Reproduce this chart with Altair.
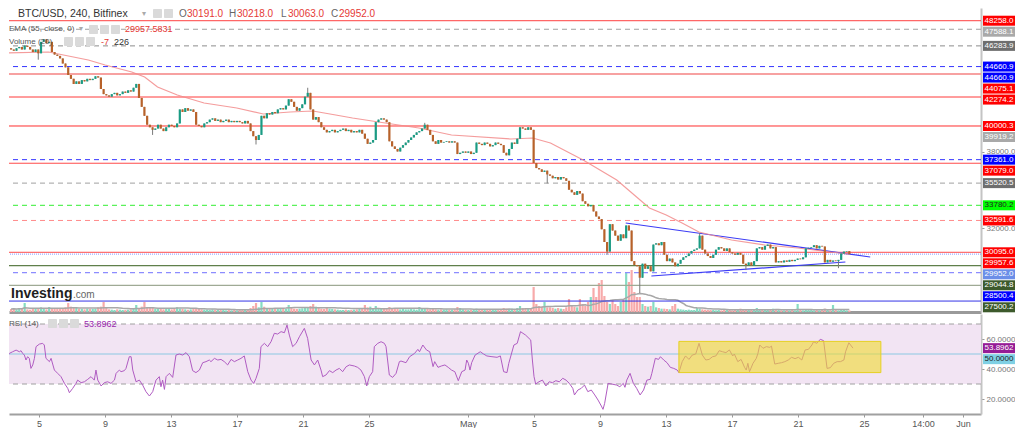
import altair as alt
import pandas as pd

FONT = "Liberation Sans"

# ---------------------------------------------------------------- data
# time axis = days since 2022-04-01 00:00, one candle every 4 hours
START_DAY = 2.0
PER_DAY = 6
FIRST_OPEN = 46100

closes_by_day = [
    [46000, 45900, 46100, 46200, 46000, 46300],  # Apr 3
    [46200, 46000, 45800, 46000, 45700, 46600],  # Apr 4
    [46800, 46500, 46600, 45800, 45600, 45500],  # Apr 5
    [45300, 44900, 44600, 44000, 43700, 43300],  # Apr 6
    [43500, 43300, 43600, 43500, 43700, 43600],  # Apr 7
    [43700, 43900, 43800, 42900, 42500, 42400],  # Apr 8
    [42300, 42500, 42600, 42400, 42500, 42700],  # Apr 9
    [42600, 42800, 42700, 43000, 43300, 42200],  # Apr 10
    [41500, 40800, 40100, 39900, 39700, 39800],  # Apr 11
    [40100, 39800, 39600, 39900, 40100, 40000],  # Apr 12
    [39900, 40200, 41300, 41100, 41400, 41200],  # Apr 13
    [41300, 41100, 40100, 40000, 39900, 40200],  # Apr 14
    [40300, 40500, 40600, 40400, 40500, 40300],  # Apr 15
    [40400, 40500, 40300, 40400, 40300, 40400],  # Apr 16
    [40300, 40200, 40400, 40200, 39600, 39200],  # Apr 17
    [38900, 39300, 40800, 40600, 41000, 40900],  # Apr 18
    [41100, 41000, 41300, 41400, 41300, 41600],  # Apr 19
    [42100, 41900, 41500, 41200, 41400, 41700],  # Apr 20
    [42300, 42600, 41300, 40500, 40700, 40300],  # Apr 21
    [39900, 39700, 39500, 39600, 39700, 39500],  # Apr 22
    [39600, 39700, 39800, 39600, 39700, 39500],  # Apr 23
    [39600, 39500, 39700, 39400, 39000, 38600],  # Apr 24
    [38700, 38900, 40300, 40500, 40600, 40500],  # Apr 25
    [40300, 38800, 38400, 38200, 38000, 38300],  # Apr 26
    [38500, 38700, 38900, 39100, 39300, 39500],  # Apr 27
    [39600, 39800, 40100, 39700, 39300, 38800],  # Apr 28
    [38600, 38900, 38700, 38750, 38800, 38700],  # Apr 29
    [38800, 38700, 37800, 37900, 38000, 37900],  # Apr 30
    [38000, 37800, 37900, 38700, 38600, 38500],  # May 1
    [38700, 38600, 38400, 38500, 38700, 38600],  # May 2
    [38500, 37900, 37700, 38200, 38700, 38600],  # May 3
    [39000, 39900, 39800, 39700, 39900, 39700],  # May 4
    [37100, 36700, 36600, 36400, 36500, 36200],  # May 5
    [36100, 35900, 36000, 35800, 36000, 35900],  # May 6
    [35700, 35000, 34800, 34600, 34900, 34700],  # May 7
    [34100, 33900, 33700, 33800, 33300, 32900],  # May 8
    [32700, 31900, 30900, 30150, 32300, 31800],  # May 9
    [31400, 31000, 31500, 31200, 32200, 31800],  # May 10
    [29400, 29100, 29000, 28100, 29200, 28800],  # May 11
    [29000, 28600, 30700, 30800, 30650, 30900],  # May 12
    [29900, 29400, 29600, 29300, 29000, 29200],  # May 13
    [29500, 29700, 29800, 30000, 30200, 30300],  # May 14
    [30400, 31400, 30300, 30000, 29800, 29650],  # May 15
    [29900, 30300, 30500, 30400, 30200, 30400],  # May 16
    [30100, 30000, 29900, 30050, 29900, 29200],  # May 17
    [29100, 29300, 29050, 29400, 30400, 30500],  # May 18
    [30300, 30600, 30700, 30400, 30500, 29300],  # May 19
    [29400, 29300, 29450, 29350, 29500, 29400],  # May 20
    [29500, 29600, 29550, 29700, 30400, 30450],  # May 21
    [30500, 30650, 30400, 30600, 30550, 29300],  # May 22
    [29500, 29350, 29450, 29400, 29500, 30000],  # May 23
    [30150, 30191, 29952],                        # May 24
]

volumes_by_day = [
    [450, 500, 400, 600, 500, 1350], [400, 350, 600, 500, 450, 700],
    [500, 400, 750, 600, 450, 500], [550, 600, 700, 1350, 800, 700],
    [600, 500, 450, 400, 500, 450], [450, 500, 700, 800, 1500, 600],
    [400, 350, 300, 400, 350, 300], [300, 350, 400, 600, 1050, 500],
    [800, 1500, 700, 600, 750, 500], [500, 450, 400, 500, 450, 400],
    [450, 700, 500, 450, 400, 350], [400, 500, 600, 450, 400, 350],
    [350, 300, 400, 350, 300, 300], [300, 250, 300, 250, 300, 250],
    [300, 350, 300, 400, 600, 900], [1350, 700, 1500, 800, 600, 500],
    [500, 450, 600, 500, 450, 500], [1050, 600, 500, 450, 500, 550],
    [600, 700, 900, 1200, 800, 600], [500, 450, 750, 500, 450, 400],
    [350, 300, 300, 350, 300, 300], [350, 400, 450, 500, 1050, 700],
    [800, 600, 900, 600, 500, 450], [500, 750, 600, 500, 450, 400],
    [450, 400, 400, 450, 400, 350], [750, 500, 600, 450, 400, 500],
    [400, 350, 400, 350, 400, 350], [350, 400, 750, 600, 400, 350],
    [300, 350, 300, 500, 450, 350], [400, 350, 450, 400, 350, 400],
    [400, 600, 500, 450, 500, 450], [600, 900, 600, 500, 550, 600],
    [3750, 1200, 900, 800, 1500, 700], [700, 600, 500, 600, 500, 450],
    [700, 1950, 1050, 800, 700, 1950], [1200, 900, 1500, 2250, 3600, 2250],
    [4350, 4800, 2400, 1500, 1200, 1800], [1200, 900, 1500, 1800, 5850, 4500],
    [6300, 3000, 2250, 2250, 1200, 900], [800, 900, 1500, 700, 600, 500],
    [500, 450, 400, 900, 1200, 500], [400, 350, 300, 350, 300, 300],
    [600, 500, 400, 350, 300, 300], [300, 250, 300, 250, 300, 300],
    [300, 250, 300, 350, 500, 400], [350, 300, 300, 350, 600, 400],
    [350, 300, 350, 300, 500, 350], [300, 250, 250, 300, 250, 300],
    [250, 1200, 300, 250, 400, 350], [300, 250, 300, 250, 300, 500],
    [300, 250, 1050, 300, 250, 400], [300, 250, 226],
]

# visible wick extremes (candle index -> price)
upper_wicks = {109: 43000, 152: 40250, 253: 31600}
lower_wicks = {10: 45200, 52: 39300, 90: 38550, 197: 35500, 219: 29900,
               231: 26900, 270: 28700, 304: 28850}

# EMA(55)
ema_day = [1.70, 4.30, 6.73, 7.76, 9.39, 10.18, 10.97, 12.18, 13.82, 15.82, 17.45,
           19.09, 20.48, 21.88, 22.91, 24.91, 26.97, 28.97, 32.61, 33.94, 35.03,
           37.03, 39.09, 41.09, 42.12, 43.09, 44.12, 46.12, 48.18, 50.18, 52.18, 53.33]
ema_val = [45725, 45804, 45176, 44784, 44235, 43843, 43059, 42431, 41804, 41412, 40941,
           41098, 41176, 40863, 40627, 40235, 39843, 39294, 38980, 39059, 38667,
           37333, 35765, 33569, 33020, 32392, 31686, 31059, 30667, 30431, 30118, 29958]

# triangle trend lines
tri_day = [39.64, 54.61, 41.21, 53.09]
tri_price = [32392, 29725, 28235, 29333]
tri_id = ["upper", "upper", "lower", "lower"]

# horizontal levels
level_price = [48258.0, 47588.1, 46283.9, 44660.9, 44075.1, 42274.2, 40000.3, 37361.0,
               37079.0, 35520.5, 33780.2, 32591.6, 30095.0, 29952.0, 29044.8, 28500.4,
               27500.2, 26270.0]
level_color = ["#ff4040", "#a0a0a0", "#8c8c8c", "#3535ff", "#f7a1a1", "#ff3b3b", "#ff2f2f",
               "#3535ff", "#ff4a4a", "#a0a0a0", "#33ee33", "#ff8a8a", "#ff4a4a", "#8899ff",
               "#5f7f4a", "#8c8cff", "#9faa95", "#3434e6"]
level_style = ["solid", "dashed", "dashed", "dashed", "solid", "solid", "solid", "dashed",
               "solid", "dashed", "dashed", "dashed", "solid", "dotted", "solid", "dashed",
               "solid", "solid"]
level_width = [1, 1, 1, 1, 2, 1, 1, 1, 1, 1, 1, 1, 1, 1, 1.2, 1.2, 1.2, 1]

# price tags on the right scale
tag_price = [48258.0, 47588.1, 46283.9, 44660.9, 44660.9, 44075.1, 42274.2, 40000.3,
             39919.2, 37361.0, 37079.0, 35520.5, 33780.2, 32591.6, 30095.0, 29957.6,
             29952.0, 29044.8, 28500.4, 27500.2]
tag_bg = ["#ff0000", "#a9a9a9", "#6e6e6e", "#0000ff", "#0000ff", "#ff0000", "#ff0000",
          "#ff0000", "#a9a9a9", "#0000ff", "#ff0000", "#6e6e6e", "#00ff00", "#ff0000",
          "#ff0000", "#ff0000", "#6b8ee8", "#3d5a2c", "#0000ff", "#3d5a2c"]
tag_fg = ["white"] * 12 + ["#222222"] + ["white"] * 7
price_ticks = [38000, 32000]

# RSI(14): (day, value)
rsi_points = [
    (1.70, 47.1), (1.86, 44.9), (2.00, 47.1), (2.20, 50.4), (2.40, 51.5), (2.61, 52.6),
    (2.81, 51.5), (2.91, 52.2), (3.01, 50.4), (3.11, 49.3), (3.21, 46.0), (3.31, 48.2),
    (3.41, 47.1), (3.51, 40.4), (3.62, 42.7), (3.72, 47.1), (3.82, 54.9), (4.02, 56.6),
    (4.22, 57.1), (4.32, 56.0), (4.42, 47.1), (4.63, 44.9), (4.73, 47.1), (4.93, 39.3),
    (5.13, 37.1), (5.33, 34.9), (5.54, 30.4), (5.74, 27.1), (5.84, 24.2), (6.04, 27.1),
    (6.24, 30.4), (6.34, 32.6), (6.55, 30.9), (6.75, 31.5), (6.95, 33.1), (7.15, 34.9),
    (7.35, 32.6), (7.45, 39.3), (7.56, 32.6), (7.76, 28.7), (7.96, 30.9), (8.16, 31.5),
    (8.36, 30.4), (8.57, 32.6), (8.67, 37.1), (8.87, 39.3), (8.97, 38.2), (9.17, 38.9),
    (9.27, 40.4), (9.47, 48.2), (9.58, 48.2), (9.68, 39.3), (9.88, 31.5), (10.08, 32.6),
    (10.28, 29.3), (10.48, 24.9), (10.69, 22.0), (10.89, 24.9), (11.09, 32.6), (11.29, 34.9),
    (11.39, 28.2), (11.49, 32.6), (11.60, 26.4), (11.70, 34.9), (11.90, 37.1), (12.10, 34.4),
    (12.30, 49.3), (12.50, 50.0), (12.71, 49.3), (12.91, 50.9), (13.11, 48.2), (13.31, 38.9),
    (13.51, 37.6), (13.72, 39.3), (13.92, 44.2), (14.12, 44.9), (14.32, 46.0), (14.42, 44.9),
    (14.63, 47.1), (14.83, 46.0), (15.03, 46.4), (15.23, 44.9), (15.43, 42.7), (15.64, 46.4),
    (15.84, 44.9), (16.04, 46.0), (16.24, 47.1), (16.44, 48.7), (16.65, 38.2), (16.85, 32.6),
    (17.01, 30.4), (17.15, 33.8), (17.35, 40.4), (17.45, 54.9), (17.66, 57.1), (17.86, 54.9),
    (18.06, 58.2), (18.26, 63.8), (18.46, 63.3), (18.67, 64.9), (18.87, 64.2), (19.03, 69.3),
    (19.17, 62.6), (19.37, 54.9), (19.58, 57.1), (19.78, 61.5), (20.08, 67.1), (20.28, 60.4),
    (20.49, 46.0), (20.69, 42.7), (20.89, 46.0), (21.09, 39.3), (21.19, 34.9), (21.39, 36.0),
    (21.60, 38.9), (21.80, 37.6), (22.00, 39.3), (22.20, 40.4), (22.40, 38.2), (22.61, 41.5),
    (22.81, 42.7), (23.11, 42.0), (23.31, 41.1), (23.51, 39.3), (23.72, 34.9), (23.86, 28.7),
    (24.02, 34.9), (24.22, 38.2), (24.32, 54.9), (24.53, 57.1), (24.73, 58.2), (24.93, 57.1),
    (25.03, 54.9), (25.23, 36.0), (25.43, 34.4), (25.64, 37.1), (25.84, 44.9), (25.94, 45.3),
    (26.24, 44.2), (26.46, 48.2), (26.76, 50.4), (26.96, 53.1), (27.06, 51.5), (27.26, 56.0),
    (27.48, 52.7), (27.68, 51.5), (27.88, 41.6), (27.98, 44.9), (28.18, 41.1), (28.38, 42.0),
    (28.60, 42.7), (28.80, 41.1), (29.00, 39.3), (29.20, 38.2), (29.41, 32.2), (29.62, 38.2),
    (29.82, 39.3), (29.92, 46.0), (30.02, 43.8), (30.12, 39.3), (30.22, 44.2), (30.43, 49.3),
    (30.74, 51.5), (30.94, 50.0), (31.14, 48.7), (31.45, 48.2), (31.76, 47.8), (31.96, 48.7),
    (32.16, 38.2), (32.36, 37.6), (32.47, 43.8), (32.78, 56.0), (32.98, 57.1), (33.18, 64.9),
    (33.49, 62.6), (33.80, 59.3), (33.90, 46.0), (34.00, 34.9), (34.10, 30.0), (34.30, 31.5),
    (34.51, 32.6), (34.72, 28.7), (34.92, 31.5), (35.12, 30.9), (35.32, 32.2), (35.53, 31.5),
    (35.74, 33.8), (35.94, 32.6), (36.14, 30.4), (36.35, 27.1), (36.45, 22.7), (36.66, 26.0),
    (36.86, 27.1), (37.06, 29.3), (37.26, 24.9), (37.47, 26.0), (37.68, 22.7), (37.88, 19.3),
    (38.08, 15.3), (38.18, 13.1), (38.28, 17.1), (38.49, 30.4), (38.70, 30.0), (39.00, 29.3),
    (39.20, 28.2), (39.41, 30.4), (39.51, 27.8), (39.62, 32.6), (39.82, 37.1), (40.02, 30.4),
    (40.22, 27.1), (40.43, 22.7), (40.64, 26.0), (40.84, 32.6), (41.04, 33.1), (41.14, 37.1),
    (41.35, 47.1), (41.55, 46.4), (41.66, 48.2), (41.86, 46.0), (42.06, 44.2), (42.26, 41.1),
    (42.47, 40.4), (42.68, 39.3), (42.78, 37.6), (42.98, 44.9), (43.18, 48.7), (43.39, 46.4),
    (43.59, 49.3), (43.80, 50.0), (44.00, 57.1), (44.20, 49.3), (44.41, 46.0), (44.61, 46.4),
    (44.82, 48.2), (45.02, 48.7), (45.22, 52.2), (45.43, 51.5), (45.63, 50.9), (45.84, 52.7),
    (46.04, 48.7), (46.14, 50.0), (46.35, 44.9), (46.55, 46.4), (46.76, 41.1), (46.86, 39.3),
    (46.96, 43.8), (47.06, 38.2), (47.27, 43.8), (47.47, 47.1), (47.57, 50.4), (47.68, 56.0),
    (47.88, 53.8), (48.08, 54.9), (48.29, 54.4), (48.39, 55.3), (48.59, 43.3), (48.80, 43.8),
    (49.00, 44.2), (49.20, 44.9), (49.41, 46.0), (49.61, 47.8), (49.82, 46.9), (50.02, 47.8),
    (50.23, 46.0), (50.43, 52.7), (50.63, 53.1), (50.84, 56.0), (50.94, 58.2), (51.14, 57.1),
    (51.35, 59.8), (51.55, 58.9), (51.76, 40.4), (51.96, 40.9), (52.16, 43.8), (52.37, 44.9),
    (52.57, 44.9), (52.78, 46.0), (52.88, 51.5), (53.08, 57.5), (53.33, 53.9),
]
rsi_ticks = [60, 40, 20]
rsi_tag_val = [53.8962, 50.0]
rsi_tag_bg = ["#951b95", "#7fd0e4"]
rsi_tag_fg = ["white", "#222222"]
box_day = [42.78, 55.02]
box_rsi = [37.6, 58.4]

x_tick_day = [4, 8, 12, 16, 20, 24, 30, 34, 38, 42, 46, 50, 54, 57.58, 60]
x_tick_text = ["5", "9", "13", "17", "21", "25", "May", "5", "9", "13", "17", "21", "25",
               "14:00", "Jun"]

# ---------------------------------------------------------------- frames
closes = [c for d in closes_by_day for c in d]
vols = [v for d in volumes_by_day for v in d]
n = len(closes)
opens = [FIRST_OPEN] + closes[:-1]
days = [START_DAY + i / PER_DAY for i in range(n)]
highs = [max(o, c) for o, c in zip(opens, closes)]
lows = [min(o, c) for o, c in zip(opens, closes)]
for i, h in upper_wicks.items():
    highs[i] = max(highs[i], h)
for i, l in lower_wicks.items():
    lows[i] = min(lows[i], l)
cdf = pd.DataFrame(dict(day=days, open=opens, close=closes, high=highs, low=lows,
                        volume=vols))

# ---------------------------------------------------------------- layout
W = 972
H_P = 304
H_R = 100
XD = [2.18, 2.18 + W / 16.5]
PY = [25412, 49255]
RY = [10, 76.67]
VOL_MAX = 45600
BULL, BEAR = "#1a9c84", "#b8622a"


def stack(values, gap):
    order = sorted(range(len(values)), key=lambda i: -values[i])
    pos = [0.0] * len(values)
    prev = None
    for i in order:
        y = values[i]
        if prev is not None and prev - y < gap:
            y = prev - gap
        pos[i] = y
        prev = y
    return pos


ppp = (PY[1] - PY[0]) / H_P
tpos = stack(tag_price, 11 * ppp)
tags = pd.DataFrame(dict(yc=tpos, top=[p + 5.0 * ppp for p in tpos],
                         bot=[p - 5.0 * ppp for p in tpos],
                         txt=[f"{p:.1f}" for p in tag_price], bg=tag_bg, fg=tag_fg))
rpp = (RY[1] - RY[0]) / H_R
rpos = stack(rsi_tag_val, 11 * rpp)
rtags = pd.DataFrame(dict(yc=rpos, top=[p + 5.0 * rpp for p in rpos],
                          bot=[p - 5.0 * rpp for p in rpos],
                          txt=[f"{p:.4f}" for p in rsi_tag_val], bg=rsi_tag_bg,
                          fg=rsi_tag_fg))

xs = alt.Scale(domain=XD, nice=False, zero=False)
ys = alt.Scale(domain=PY, nice=False, zero=False)
vs = alt.Scale(domain=[0, VOL_MAX], nice=False)
rs = alt.Scale(domain=RY, nice=False, zero=False)

px_axis = alt.Axis(title=None, labels=False, ticks=False, grid=False,
                   domainColor="#9a9a9a", domainWidth=3, orient="bottom")
py_axis = alt.Axis(title=None, orient="right", values=price_ticks, format=".1f",
                   grid=False, domainColor="#c4c4c4", domainWidth=2, tickColor="#999",
                   tickSize=3, labelColor="#777", labelFontSize=8, labelFont=FONT,
                   labelPadding=2)
lab_expr = ("[" + ",".join(f"'{t}'" for t in x_tick_text) + "][indexof(["
            + ",".join(str(v) for v in x_tick_day) + "], datum.value)]")
rx_axis = alt.Axis(title=None, orient="bottom", values=x_tick_day, labelExpr=lab_expr,
                   grid=False, domainColor="#a0a0a0", domainWidth=2, tickColor="#999",
                   tickSize=3, labelColor="#555", labelFontSize=9, labelFont=FONT,
                   labelPadding=2, labelOverlap=False, labelFlush=False)
ry_axis = alt.Axis(title=None, orient="right", values=rsi_ticks, format=".4f",
                   grid=False, domainColor="#c4c4c4", domainWidth=2, tickColor="#999",
                   tickSize=3, labelColor="#777", labelFontSize=8, labelFont=FONT,
                   labelPadding=2)


def PX(f="day"):
    return alt.X(f"{f}:Q", scale=xs, axis=px_axis)


def PYc(f):
    return alt.Y(f"{f}:Q", scale=ys, axis=py_axis)


ONE = pd.DataFrame({"a": [0]})


def txt(text, x, y, color, size, weight="normal", baseline="middle"):
    return alt.Chart(ONE).mark_text(
        text=text, color=color, fontSize=size, fontWeight=weight, font=FONT,
        align="left", baseline=baseline).encode(x=alt.value(x), y=alt.value(y))


def icon(x, y, s=9):
    return alt.Chart(ONE).mark_rect(color="#dadada", cornerRadius=1).encode(
        x=alt.value(x), x2=alt.value(x + s), y=alt.value(y), y2=alt.value(y + s))


# ---------------------------------------------------------------- price panel
lv = pd.DataFrame(dict(price=level_price, color=level_color, style=level_style,
                       w=level_width))
dash_of = {"solid": [1, 0], "dashed": [5, 4], "dotted": [1, 1]}
level_layers = []
for st in ["solid", "dashed", "dotted"]:
    level_layers.append(
        alt.Chart(lv[lv["style"] == st]).mark_rule(strokeDash=dash_of[st]).encode(
            y=PYc("price"), color=alt.Color("color:N", scale=None),
            strokeWidth=alt.StrokeWidth("w:Q", scale=None)))

tri = alt.Chart(pd.DataFrame(dict(day=tri_day, price=tri_price, id=tri_id))).mark_line(
    color="#3b3bf5", strokeWidth=1.2, clip=True).encode(
    x=PX(), y=PYc("price"), detail="id:N")

ema = alt.Chart(pd.DataFrame(dict(day=ema_day, price=ema_val))).mark_line(
    color="#f28b8b", strokeWidth=1.2, opacity=0.85, clip=True).encode(
    x=PX(), y=PYc("price"))

candle_color = alt.condition("datum.close >= datum.open", alt.value(BULL), alt.value(BEAR))
wicks = alt.Chart(cdf).mark_rule(color="#7a7a7a", strokeWidth=1, clip=True).encode(
    x=PX(), y=PYc("low"), y2="high:Q")
bodies = alt.Chart(cdf).mark_bar(width=2.2, clip=True).encode(
    x=PX(), y=PYc("open"), y2="close:Q", color=candle_color)

tag_rect = alt.Chart(tags).mark_rect().encode(
    x=alt.value(W + 2), x2=alt.value(W + 34), y=PYc("top"), y2="bot:Q",
    color=alt.Color("bg:N", scale=None))
tag_text = alt.Chart(tags).mark_text(fontSize=8, font=FONT, align="center",
                                     baseline="middle").encode(
    x=alt.value(W + 18), y=PYc("yc"), text="txt:N", color=alt.Color("fg:N", scale=None))

RED = "#e53935"
header = [
    txt("BTC/USD, 240, Bitfinex", 9, 6, "#333333", 10.5),
    txt("▾", 133, 6, "#aaaaaa", 8),
    icon(144, 1), icon(155, 1),
    txt("O", 170, 6, "#666666", 10), txt("30191.0", 178, 6, RED, 10),
    txt("H", 220, 6, "#666666", 10), txt("30218.0", 228, 6, RED, 10),
    txt("L", 272, 6, "#666666", 10), txt("30063.0", 279, 6, RED, 10),
    txt("C", 322, 6, "#666666", 10), txt("29952.0", 330, 6, RED, 10),
    txt("EMA (55, close, 0)", 0, 21, "#555555", 8), txt("▾", 70, 21, "#aaaaaa", 8),
    icon(80, 17), icon(91, 17), icon(102, 17),
    txt("29957.5831", 116, 21, RED, 9),
    txt("Volume (20)", 0, 34, "#555555", 8),
    icon(55, 29), icon(66, 29), icon(77, 29),
    txt("-7", 92, 34, RED, 9), txt("226", 105, 34, "#333333", 9),
    txt("Investing", 2, 290, "#1e1e1e", 14, "bold", "alphabetic"),
    txt(".com", 64, 290, "#666666", 10, "normal", "alphabetic"),
]

vol_color = alt.condition("datum.close >= datum.open", alt.value("#86dcc3"),
                          alt.value("#f7aaaa"))
vol_bars = alt.Chart(cdf).mark_bar(width=2.2, clip=True).encode(
    x=PX(), y=alt.Y("volume:Q", scale=vs, axis=None), color=vol_color)
vol_ma = alt.Chart(cdf).transform_window(
    vma="mean(volume)", frame=[-19, 0], sort=[alt.SortField("day")]).mark_line(
    color="#a8a8a8", strokeWidth=1.5, clip=True).encode(
    x=PX(), y=alt.Y("vma:Q", scale=vs, axis=None))

price_group = alt.layer(*level_layers, tri, ema, wicks, bodies, tag_rect, tag_text,
                        *header)
volume_group = alt.layer(vol_bars, vol_ma)
price_panel = alt.layer(volume_group, price_group).resolve_scale(
    y="independent").properties(width=W, height=H_P)

# ---------------------------------------------------------------- RSI panel
def RX(f="day"):
    return alt.X(f"{f}:Q", scale=xs, axis=rx_axis)


def RYc(f):
    return alt.Y(f"{f}:Q", scale=rs, axis=ry_axis)


band = alt.Chart(pd.DataFrame({"a": [30], "b": [70]})).mark_rect(color="#f2e4f3").encode(
    y=RYc("a"), y2="b:Q")
ob_os = alt.Chart(pd.DataFrame({"v": [30, 70]})).mark_rule(
    color="#a0a0a0", strokeDash=[5, 4], strokeWidth=1).encode(y=RYc("v"))
mid = alt.Chart(pd.DataFrame({"v": [50]})).mark_rule(
    color="#8cc8e2", strokeWidth=1).encode(y=RYc("v"))
rsi_df = pd.DataFrame(rsi_points, columns=["day", "rsi"])
rsi_line = alt.Chart(rsi_df).mark_line(color="#b05cc2", strokeWidth=1, clip=True).encode(
    x=RX(), y=RYc("rsi"))
ybox = alt.Chart(pd.DataFrame(dict(x1=[box_day[0]], x2=[box_day[1]], y1=[box_rsi[0]],
                                   y2=[box_rsi[1]]))).mark_rect(
    fill="#f0da30", fillOpacity=0.6, stroke="#e6d020", strokeWidth=1).encode(
    x=RX("x1"), x2="x2:Q", y=RYc("y1"), y2="y2:Q")
rtag_rect = alt.Chart(rtags).mark_rect().encode(
    x=alt.value(W + 2), x2=alt.value(W + 34), y=RYc("top"), y2="bot:Q",
    color=alt.Color("bg:N", scale=None))
rtag_text = alt.Chart(rtags).mark_text(fontSize=8, font=FONT, align="center",
                                       baseline="middle").encode(
    x=alt.value(W + 18), y=RYc("yc"), text="txt:N", color=alt.Color("fg:N", scale=None))
rsi_header = [
    txt("RSI (14)", 0, 9.5, "#555555", 8),
    icon(39, 5), icon(50, 5), icon(61, 5),
    txt("53.8962", 75, 9.5, "#9c27b0", 9),
]
rsi_panel = alt.layer(band, ob_os, mid, rsi_line, ybox, rtag_rect, rtag_text,
                      *rsi_header).properties(width=W, height=H_R)

chart = alt.vconcat(price_panel, rsi_panel, spacing=1).properties(
    padding=0, background="white").configure_view(stroke=None)

chart.save("out.html", embed_options={"renderer": "svg", "actions": False})
